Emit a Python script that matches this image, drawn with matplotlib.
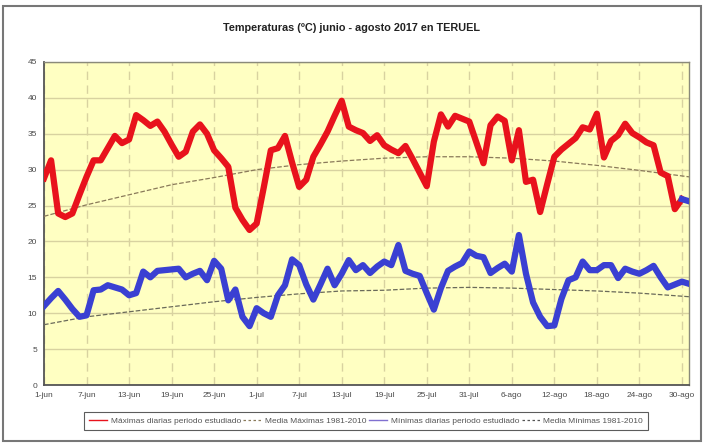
import numpy as np
import matplotlib.pyplot as plt
from matplotlib.lines import Line2D
from matplotlib.patches import Rectangle

plt.rcParams['font.family'] = ['Liberation Sans', 'DejaVu Sans']

# daily values, 1-jun (day 0) .. 31-ago (day 91)
max_diaria = [28.8, 31.3, 23.9, 23.4, 23.9, 26.5, 29.0, 31.3, 31.3, 33.0,
              34.7, 33.7, 34.2, 37.6, 36.9, 36.1, 36.7, 35.3, 33.5, 31.8,
              32.5, 35.3, 36.3, 35.0, 32.7, 31.6, 30.4, 24.7, 23.0, 21.6,
              22.5, 27.5, 32.7, 33.0, 34.7, 31.0, 27.6, 28.6, 31.8, 33.5,
              35.3, 37.5, 39.6, 36.0, 35.5, 35.1, 34.0, 34.8, 33.4, 32.8,
              32.3, 33.3, 31.5, 29.6, 27.7, 33.9, 37.7, 36.0, 37.5, 37.1,
              36.7, 33.8, 30.9, 36.2, 37.4, 36.8, 31.3, 35.5, 28.3, 28.6,
              24.1, 28.0, 31.8, 32.8, 33.6, 34.4, 35.9, 35.6, 37.8, 31.7,
              34.0, 34.8, 36.4, 35.1, 34.5, 33.8, 33.4, 29.6, 29.1, 24.5,
              25.9, 25.6]
min_diaria = [11.0, 12.1, 13.1, 11.9, 10.6, 9.5, 9.7, 13.2, 13.3, 13.9,
              13.6, 13.3, 12.5, 12.8, 15.8, 15.0, 15.9, 16.0, 16.1, 16.2,
              15.0, 15.5, 15.9, 14.6, 17.3, 16.2, 11.8, 13.3, 9.5, 8.2,
              10.7, 10.0, 9.5, 12.5, 13.9, 17.5, 16.7, 14.0, 11.9, 14.0,
              16.2, 13.9, 15.5, 17.4, 16.0, 16.7, 15.6, 16.5, 17.2, 16.7,
              19.5, 15.9, 15.5, 15.2, 12.8, 10.5, 13.5, 15.9, 16.5, 17.0,
              18.6, 18.0, 17.8, 15.6, 16.3, 16.9, 15.8, 20.9, 15.5, 11.5,
              9.5, 8.2, 8.3, 12.0, 14.6, 15.0, 17.2, 16.0, 16.0, 16.7,
              16.7, 14.9, 16.2, 15.8, 15.5, 16.0, 16.6, 15.0, 13.6, 14.0,
              14.4, 14.1]

# 1981-2010 normals, read at every 6th day
dias_media = [0, 6, 12, 18, 24, 30, 36, 42, 48, 54, 60, 66, 72, 78, 84, 91]
media_max = [23.5, 25.1, 26.5, 27.9, 28.9, 30.0, 30.7, 31.2, 31.6, 31.8,
             31.8, 31.6, 31.2, 30.6, 29.9, 29.0]
media_min = [8.4, 9.5, 10.2, 10.9, 11.6, 12.2, 12.7, 13.1, 13.2, 13.5,
             13.6, 13.5, 13.3, 13.1, 12.8, 12.3]

etiquetas = ['1-jun', '7-jun', '13-jun', '19-jun', '25-jun', '1-jul', '7-jul',
             '13-jul', '19-jul', '25-jul', '31-jul', '6-ago', '12-ago',
             '18-ago', '24-ago', '30-ago']

rojo = '#e8121c'
azul = '#3a40d2'
gris_media = '#8a7a5a'

fig = plt.figure(figsize=(7.07, 4.45), dpi=100)
ax = fig.add_axes([44 / 707, 1 - 385 / 445, 645 / 707, 323 / 445])
ax.set_facecolor('#ffffc2')

dias = np.arange(len(max_diaria))
ax.plot(dias_media, media_max, '--', color=gris_media, lw=0.9, zorder=3)
ax.plot(dias_media, media_min, '--', color='#6a6a5a', lw=0.9, zorder=3)
ax.plot(dias[:91], max_diaria[:91], color=rojo, lw=4.5, solid_joinstyle='round', zorder=4)
ax.plot(dias[90:], max_diaria[90:], color=azul, lw=4.5, zorder=4)
ax.plot(dias, min_diaria, color=azul, lw=4.5, solid_joinstyle='round', zorder=4)

ax.set_xlim(0, 91)
ax.set_ylim(0, 45)
ax.set_yticks(np.arange(0, 46, 5))
ax.set_xticks(np.arange(0, 91, 6))
ax.set_xticklabels(etiquetas)
ax.tick_params(labelsize=6, colors='#4a4a4a', length=0, pad=5)

ax.grid(axis='y', color='#d8d2a0', lw=1.0, zorder=1)
ax.grid(axis='x', color='#d8d2a0', lw=1.0, ls=(0, (6, 4)), zorder=1)
for s in ['left', 'bottom']:
    ax.spines[s].set_color('#555555')
    ax.spines[s].set_linewidth(1.3)
for s in ['top', 'right']:
    ax.spines[s].set_color('#8a8a7a')
    ax.spines[s].set_linewidth(1.0)

fig.text(0.497, 1 - 28 / 445, 'Temperaturas (ºC) junio - agosto 2017 en TERUEL',
         ha='center', va='center', fontsize=7.8, fontweight='bold', color='#222222')

handles = [Line2D([], [], color=rojo, lw=1),
           Line2D([], [], color=gris_media, lw=0.9, ls=(0, (2, 2))),
           Line2D([], [], color='#8070d0', lw=1),
           Line2D([], [], color='#555555', lw=0.9, ls=(0, (2, 2)))]
labels = ['Máximas diarias periodo estudiado', 'Media Máximas 1981-2010',
          'Mínimas diarias periodo estudiado', 'Media Mínimas 1981-2010']
leg = fig.legend(handles, labels, loc='center', bbox_to_anchor=(366 / 707, 1 - 421 / 445),
                 ncol=4, fontsize=6.0, frameon=True, fancybox=False,
                 handlelength=2.2, handletextpad=0.4, columnspacing=0.3,
                 borderpad=0.6)
leg.get_frame().set_edgecolor('#333333')
leg.get_frame().set_linewidth(0.8)
for t in leg.get_texts():
    t.set_color('#555555')

fig.patches.append(Rectangle((3 / 707, 1 - 441 / 445), 698 / 707, 435 / 445,
                             transform=fig.transFigure, fill=False,
                             edgecolor='#777777', lw=1.5))

fig.savefig('out.png', dpi=100)
